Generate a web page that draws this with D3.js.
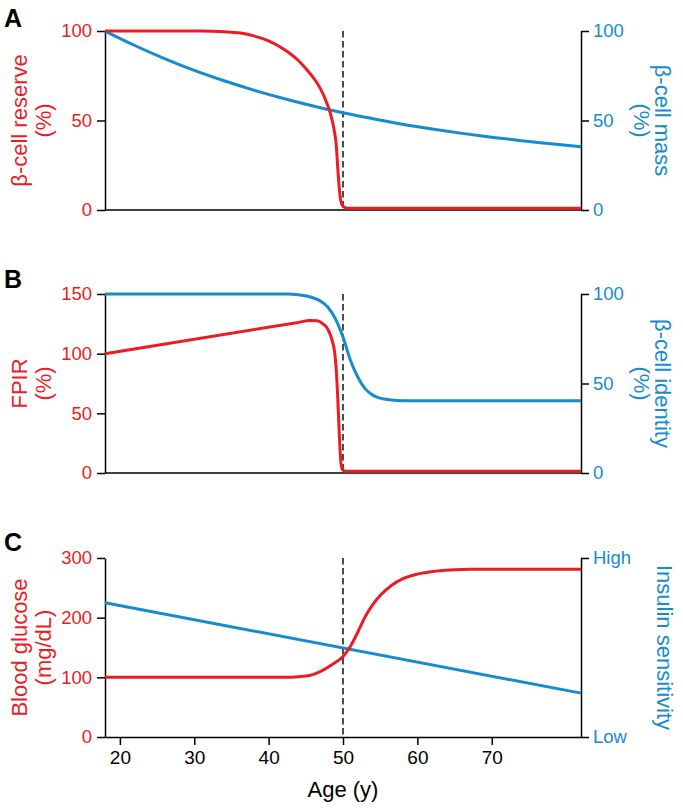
<!DOCTYPE html>
<html>
<head>
<meta charset="utf-8">
<script src="https://cdn.jsdelivr.net/npm/d3@7"></script>
<style>
  html, body { margin: 0; padding: 0; background: #fff; }
  svg { display: block; font-family: "Liberation Sans", Arial, Helvetica, sans-serif; }
</style>
</head>
<body>
<svg id="chart" width="683" height="811"></svg>
<script>
// ---------------- data ----------------
const ageDomain = [18, 82];
const xTicks = [20, 30, 40, 50, 60, 70];
const markerAge = 50;

// Panel A
const reserveAges   = [18, 31, 34, 36, 38, 40, 42, 44, 45, 46, 47, 47.8, 48.3, 48.8, 49.1, 49.35, 49.6, 49.85, 50.2, 50.7, 82];
const reserveValues = [100, 100, 99.6, 99, 97.3, 94.5, 90, 83.5, 79, 74, 67.5, 60, 54, 45, 36, 20, 8, 3, 1.5, 1, 1];
const massAges   = [18, 22, 26, 30, 34, 38, 42, 46, 50, 54, 58, 62, 66, 70, 74, 78, 82];
const massValues = [100, 91.9, 84.6, 78.0, 72.2, 67.0, 62.3, 58.1, 54.3, 51.0, 47.9, 45.2, 42.8, 40.7, 38.7, 37.0, 35.4];
const reserveTicks = [0, 50, 100];
const massTicks = [0, 50, 100];

// Panel B
const fpirAges   = [18, 44, 45.5, 46.5, 47.3, 48, 48.5, 48.9, 49.1, 49.3, 49.45, 49.6, 49.75, 49.95, 50.3, 82];
const fpirValues = [100, 126.2, 127.8, 127.5, 125, 120, 112, 100, 86, 62, 40, 20, 7, 2.5, 1.5, 1.5];
const identityAges   = [18, 42.5, 44, 45.5, 47, 48, 49, 50, 51, 52, 53, 54, 55, 56.5, 58, 82];
const identityValues = [100, 100, 99.6, 98.5, 96, 92.5, 86, 76, 63, 53.5, 47, 43.5, 41.8, 40.8, 40.4, 40.4];
const fpirTicks = [0, 50, 100, 150];
const identityTicks = [0, 50, 100];

// Panel C
const glucoseAges   = [18, 42, 44, 45.5, 47, 48.5, 50, 51, 52, 53, 54, 55, 56.5, 58, 60, 62.5, 65, 67, 82];
const glucoseValues = [100, 100, 101, 103, 110, 121, 135, 152, 176, 202, 222, 237, 254, 265, 273, 278, 280.5, 281, 281];
const sensitivityAges   = [18, 82];
const sensitivityValues = [75, 24.5];
const glucoseTicks = [0, 100, 200, 300];
const sensitivityTicks = [0, 100];
const sensitivityLabels = ["Low", "High"];

// ---------------- styling ----------------
const RED = "#EC1C24";
const BLUE = "#168BD0";
const W = 683, H = 811;
const left = 105, right = 581;
const panelH = 179;

const svg = d3.select("#chart");
svg.append("rect").attr("width", W).attr("height", H).attr("fill", "#fff");

const x = d3.scaleLinear().domain(ageDomain).range([left, right]);

function zip(a, v) { return a.map((d, i) => [d, v[i]]); }

const panels = [
  {
    letter: "A", top: 31, letterY: 27,
    lDomain: [0, 100], lTicks: reserveTicks, lTitle: ["β-cell reserve", "(%)"],
    rDomain: [0, 100], rTicks: massTicks, rTitle: ["β-cell mass", "(%)"],
    red: zip(reserveAges, reserveValues), blue: zip(massAges, massValues),
    xAxis: false
  },
  {
    letter: "B", top: 294, letterY: 288,
    lDomain: [0, 150], lTicks: fpirTicks, lTitle: ["FPIR", "(%)"],
    rDomain: [0, 100], rTicks: identityTicks, rTitle: ["β-cell identity", "(%)"],
    red: zip(fpirAges, fpirValues), blue: zip(identityAges, identityValues),
    xAxis: false
  },
  {
    letter: "C", top: 558, letterY: 551,
    lDomain: [0, 300], lTicks: glucoseTicks, lTitle: ["Blood glucose", "(mg/dL)"],
    rDomain: [0, 100], rTicks: sensitivityTicks, rTitle: ["Insulin sensitivity"],
    rFormat: d => sensitivityLabels[sensitivityTicks.indexOf(d)],
    red: zip(glucoseAges, glucoseValues), blue: zip(sensitivityAges, sensitivityValues),
    xAxis: true
  }
];

panels.forEach(p => {
  const bottom = p.top + panelH;
  const yL = d3.scaleLinear().domain(p.lDomain).range([bottom, p.top]);
  const yR = d3.scaleLinear().domain(p.rDomain).range([bottom, p.top]);
  const g = svg.append("g");

  // panel letter
  g.append("text").attr("x", 4).attr("y", p.letterY)
    .attr("font-size", 25).attr("font-weight", 900).attr("fill", "#000")
    .text(p.letter);

  // dashed marker
  g.append("line")
    .attr("x1", x(markerAge)).attr("x2", x(markerAge))
    .attr("y1", p.top).attr("y2", bottom)
    .attr("stroke", "#000").attr("stroke-width", 1.4)
    .attr("stroke-dasharray", "6.5,3.5");

  // x axis line / axis
  if (p.xAxis) {
    const ax = g.append("g").attr("transform", `translate(0,${bottom})`)
      .call(d3.axisBottom(x).tickValues(xTicks).tickSize(8).tickSizeOuter(0).tickPadding(6));
    ax.select(".domain").attr("stroke", "#000").attr("stroke-width", 1.5);
    ax.selectAll(".tick line").attr("stroke", "#000").attr("stroke-width", 1.5);
    ax.selectAll(".tick text").attr("font-size", 19).attr("fill", "#000")
      .attr("font-family", "Liberation Sans, Arial, sans-serif");
    g.append("text").attr("x", x(50)).attr("y", 797)
      .attr("text-anchor", "middle").attr("font-size", 22).attr("fill", "#000")
      .text("Age (y)");
  } else {
    g.append("line").attr("x1", left).attr("x2", right)
      .attr("y1", bottom).attr("y2", bottom)
      .attr("stroke", "#000").attr("stroke-width", 1.5);
  }

  // left axis
  const la = g.append("g").attr("transform", `translate(${left},0)`)
    .call(d3.axisLeft(yL).tickValues(p.lTicks).tickSize(8).tickSizeOuter(0).tickPadding(5));
  la.select(".domain").attr("stroke", "#000").attr("stroke-width", 1.5);
  la.selectAll(".tick line").attr("stroke", "#000").attr("stroke-width", 1.5);
  la.selectAll(".tick text").attr("font-size", 18.5).attr("fill", RED)
    .attr("font-family", "Liberation Sans, Arial, sans-serif");

  // right axis
  const ra = g.append("g").attr("transform", `translate(${right},0)`)
    .call(d3.axisRight(yR).tickValues(p.rTicks).tickSize(8).tickSizeOuter(0).tickPadding(4)
      .tickFormat(p.rFormat || d3.format("d")));
  ra.select(".domain").attr("stroke", "#000").attr("stroke-width", 1.5);
  ra.selectAll(".tick line").attr("stroke", "#000").attr("stroke-width", 1.5);
  ra.selectAll(".tick text").attr("font-size", 18.5).attr("fill", BLUE)
    .attr("font-family", "Liberation Sans, Arial, sans-serif");

  // titles
  const cy = (p.top + bottom) / 2;
  const lx = [19, 43];
  p.lTitle.forEach((t, i) => {
    g.append("text")
      .attr("transform", `translate(${lx[i]},${cy}) rotate(-90)`)
      .attr("text-anchor", "middle").attr("dy", "0.35em")
      .attr("font-size", 22).attr("fill", RED).text(t);
  });
  const rx = p.rTitle.length === 1 ? [665] : [663, 642];
  p.rTitle.forEach((t, i) => {
    g.append("text")
      .attr("transform", `translate(${rx[i]},${cy}) rotate(90)`)
      .attr("text-anchor", "middle").attr("dy", "0.35em")
      .attr("font-size", 22).attr("fill", BLUE).text(t);
  });

  // lines
  const lineL = d3.line().x(d => x(d[0])).y(d => yL(d[1])).curve(d3.curveMonotoneX);
  const lineR = d3.line().x(d => x(d[0])).y(d => yR(d[1])).curve(d3.curveMonotoneX);

  g.append("path").datum(p.blue).attr("d", lineR)
    .attr("fill", "none").attr("stroke", BLUE).attr("stroke-width", 3);
  g.append("path").datum(p.red).attr("d", lineL)
    .attr("fill", "none").attr("stroke", RED).attr("stroke-width", 3);
});
</script>
</body>
</html>
